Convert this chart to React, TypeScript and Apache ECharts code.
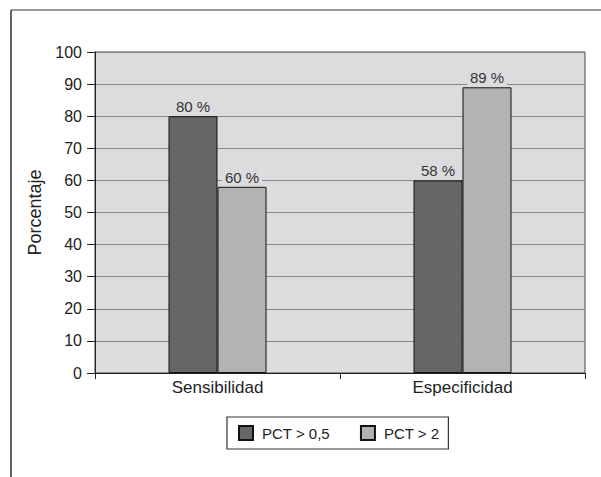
import React, { useEffect, useRef } from "react";
import * as echarts from "echarts";

const categories = ["Sensibilidad", "Especificidad"];
const seriesNames = ["PCT > 0,5", "PCT > 2"];
const valuesLow = [80, 60];
const valuesHigh = [58, 89];
const labelsLow = ["80 %", "58 %"];
const labelsHigh = ["60 %", "89 %"];
const yTicks = { min: 0, max: 100, interval: 10 };

export default function App() {
  const ref = useRef<HTMLDivElement>(null);
  useEffect(() => {
    if (!ref.current) return;
    const chart = echarts.init(ref.current, null, { renderer: "svg" });
    const font = "Liberation Sans, Arial, Helvetica, sans-serif";
    const mkLabel = (labels: string[]) => ({
      show: true,
      position: "top" as const,
      distance: 2,
      fontFamily: font,
      fontSize: 15,
      color: "#333",
      backgroundColor: "#dcdcdf",
      padding: [1, 3, 0, 3],
      formatter: (p: any) => labels[p.dataIndex],
    });
    chart.setOption({
      animation: false,
      backgroundColor: "#ffffff",
      textStyle: { fontFamily: font },
      grid: {
        left: 95,
        right: 16,
        top: 52,
        bottom: 104,
        show: true,
        backgroundColor: "#dcdcdf",
        borderColor: "#444",
        borderWidth: 1,
      },
      legend: {
        left: 227,
        top: 417,
        orient: "horizontal",
        data: seriesNames,
        icon: "rect",
        itemWidth: 14,
        itemHeight: 14,
        itemGap: 30,
        padding: [8, 9, 8, 11],
        borderColor: "#333",
        borderWidth: 1.2,
        textStyle: { fontFamily: font, fontSize: 15, color: "#222", padding: [0, 0, 0, 4] },
      },
      xAxis: {
        type: "category",
        data: categories,
        axisLine: { show: true, lineStyle: { color: "#222", width: 1 } },
        axisTick: { show: true, length: 6, lineStyle: { color: "#222" } },
        axisLabel: { fontFamily: font, fontSize: 17, color: "#222", margin: 6 },
        splitLine: { show: false },
      },
      yAxis: {
        type: "value",
        min: yTicks.min,
        max: yTicks.max,
        interval: yTicks.interval,
        name: "Porcentaje",
        nameLocation: "middle",
        nameGap: 50,
        nameTextStyle: { fontFamily: font, fontSize: 18, color: "#222" },
        axisLine: { show: true, lineStyle: { color: "#222", width: 1 } },
        axisTick: { show: true, length: 8, lineStyle: { color: "#222" } },
        axisLabel: { fontFamily: font, fontSize: 16, color: "#222", margin: 13 },
        splitLine: { show: true, lineStyle: { color: "#888", width: 1 } },
      },
      series: [
        {
          name: seriesNames[0],
          type: "bar",
          data: valuesLow,
          barWidth: "20%",
          barGap: "0%",
          itemStyle: { color: "#666666", borderColor: "#111", borderWidth: 1 },
          label: mkLabel(labelsLow),
        },
        {
          name: seriesNames[1],
          type: "bar",
          data: valuesHigh,
          barWidth: "20%",
          barGap: "0%",
          itemStyle: { color: "#b3b3b3", borderColor: "#111", borderWidth: 1 },
          label: mkLabel(labelsHigh),
        },
      ],
      graphic: [
        { type: "line", shape: { x1: 11, y1: 10, x2: 601, y2: 10 }, style: { stroke: "#999", lineWidth: 2 } },
        { type: "line", shape: { x1: 11, y1: 10, x2: 11, y2: 477 }, style: { stroke: "#333", lineWidth: 1.5 } },
      ],
    });
    return () => chart.dispose();
  }, []);
  return <div ref={ref} style={{ position: "absolute", left: 0, top: 0, width: 601, height: 477 }} />;
}
